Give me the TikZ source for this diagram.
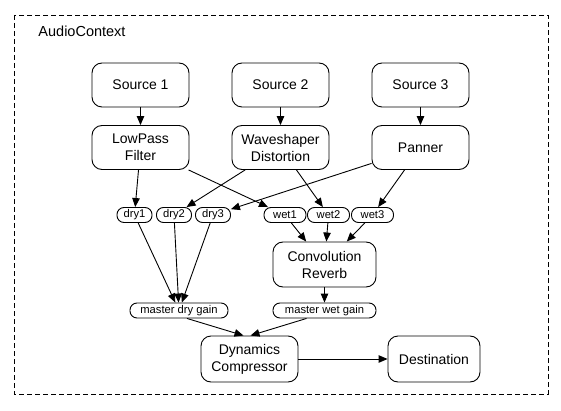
\documentclass[tikz,border=0pt]{standalone}
\usepackage{fontspec}
\setmainfont{Liberation Sans}
\usetikzlibrary{arrows.meta}
\begin{document}
\begin{tikzpicture}[x=1pt,y=-1pt,
		box/.style={draw,line width=0.9pt,rounded corners=10pt,align=center,minimum width=97pt,minimum height=44pt,inner sep=2pt,font=\fontsize{14}{17}\selectfont},
		tag/.style={draw,line width=0.9pt,rounded corners=7pt,inner sep=0pt,minimum height=15pt,font=\fontsize{11.2}{12}\selectfont},
		link/.style={-{Triangle[length=9pt,width=7.5pt]},line width=0.9pt}]
		\useasboundingbox (0,0) rectangle (561,411);
		\draw[line width=0.9pt,dash pattern=on 5pt off 3pt] (14,15) rectangle (548,394);
		\node[font=\fontsize{14.5}{17}\selectfont] (ctx) at (82,31) {AudioContext};
		\node[box] (src1) at (140.5,85) {Source 1};
		\node[box] (src2) at (280.5,85) {Source 2};
		\node[box] (src3) at (420.5,85) {Source 3};
		\node[box] (lowpass) at (140.5,147.5) {LowPass\\Filter};
		\node[box] (shaper) at (280.5,147.5) {Waveshaper\\Distortion};
		\node[box] (panner) at (420.5,147.5) {Panner};
		\node[tag,minimum width=35pt] (dry1) at (134.5,215) {dry1};
		\node[tag,minimum width=35pt] (dry2) at (174,215) {dry2};
		\node[tag,minimum width=35pt] (dry3) at (213,215) {dry3};
		\node[tag,minimum width=42pt] (wet1) at (285,215) {wet1};
		\node[tag,minimum width=42pt] (wet2) at (328.5,215) {wet2};
		\node[tag,minimum width=42pt] (wet3) at (372.5,215) {wet3};
		\node[box,minimum width=103pt,minimum height=45pt] (reverb) at (324.5,264.5) {Convolution\\Reverb};
		\node[tag,minimum width=98pt] (mdry) at (179,310.5) {master dry gain};
		\node[tag,minimum width=103pt] (mwet) at (324.5,310.5) {master wet gain};
		\node[box,minimum height=46pt] (comp) at (249.5,359) {Dynamics\\Compressor};
		\node[box,minimum width=92pt,minimum height=46pt] (dest) at (434,359) {Destination};
		\draw[link] (src1) -- (lowpass);
		\draw[link] (src2) -- (shaper);
		\draw[link] (src3) -- (panner);
		\draw[link] (lowpass) -- (dry1);
		\draw[link] (lowpass) -- (wet1);
		\draw[link] (shaper) -- (dry2);
		\draw[link] (shaper) -- (wet2);
		\draw[link] (panner) -- (dry3);
		\draw[link] (panner) -- (wet3);
		\draw[link] (dry1) -- (mdry);
		\draw[link] (dry2) -- (mdry);
		\draw[link] (dry3) -- (mdry);
		\draw[link] (wet1) -- (reverb);
		\draw[link] (wet2) -- (reverb);
		\draw[link] (wet3) -- (reverb);
		\draw[link] (reverb) -- (mwet);
		\draw[link] ([xshift=8pt]mdry.south) -- ([xshift=-6pt]comp.north);
		\draw[link] ([xshift=-18pt]mwet.south) -- ([xshift=1pt]comp.north);
		\draw[link] (comp) -- (dest);
	\end{tikzpicture}
\end{document}
